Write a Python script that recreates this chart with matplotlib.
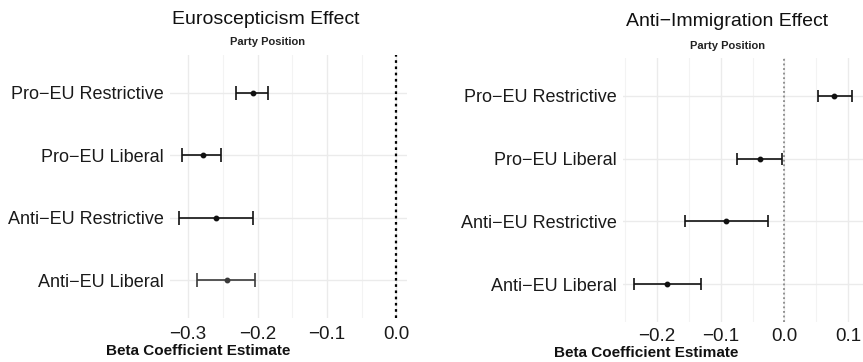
import numpy as np
import matplotlib.pyplot as plt
from matplotlib.ticker import MultipleLocator

plt.rcParams['font.family'] = ['Liberation Sans', 'DejaVu Sans']

# party positions, drawn top to bottom
positions = ["Pro\u2212EU Restrictive", "Pro\u2212EU Liberal",
             "Anti\u2212EU Restrictive", "Anti\u2212EU Liberal"]

# euroscepticism effect: estimate and interval bounds
euro_est = [-0.207, -0.279, -0.260, -0.244]
euro_lo = [-0.231, -0.308, -0.313, -0.287]
euro_hi = [-0.185, -0.252, -0.207, -0.203]

# anti-immigration effect
immig_est = [0.078, -0.039, -0.091, -0.184]
immig_lo = [0.052, -0.075, -0.155, -0.236]
immig_hi = [0.105, -0.004, -0.026, -0.131]

euro_ticks = [-0.3, -0.2, -0.1, 0.0]
immig_ticks = [-0.2, -0.1, 0.0, 0.1]


def coef_panel(ax, est, lo, hi, ticks, xlim, zero_style, colors, capsize, pad_x):
    y = np.arange(len(positions))[::-1] + 1
    est = np.array(est)
    err = np.vstack([est - np.array(lo), np.array(hi) - est])
    for i in range(len(est)):
        ax.errorbar(est[i], y[i], xerr=err[:, i:i + 1], fmt='o', color=colors[i],
                    ms=3.2, elinewidth=1.2, capsize=capsize, capthick=1.2, zorder=3)
    ax.axvline(0, zorder=2, **zero_style)
    ax.set_xlim(*xlim)
    ax.set_ylim(0.4, 4.6)
    ax.set_yticks(y)
    ax.set_yticklabels(positions)
    ax.set_xticks(ticks)
    ax.set_xticklabels([("%.1f" % t).replace("-", "\u2212") for t in ticks])
    ax.xaxis.set_minor_locator(MultipleLocator(0.05))
    ax.grid(True, which='major', color='#ebebeb', lw=1.0, zorder=0)
    ax.grid(True, which='minor', axis='x', color='#f3f3f3', lw=0.8, zorder=0)
    ax.tick_params(which='both', length=0)
    ax.tick_params(axis='y', labelsize=13, labelcolor='#1a1a1a', pad=4.5)
    ax.tick_params(axis='x', labelsize=13.5, labelcolor='#1a1a1a', pad=pad_x)
    for s in ax.spines.values():
        s.set_visible(False)
    ax.set_axisbelow(True)


fig = plt.figure(figsize=(8.63, 3.62), dpi=100)

ax1 = fig.add_axes([0.197, 0.1215, 0.2746, 0.7265])
coef_panel(ax1, euro_est, euro_lo, euro_hi, euro_ticks, (-0.3259, 0.0151),
           dict(color='black', lw=1.6, ls=(0, (1.2, 1.6))),
           ['#111111', '#111111', '#111111', '#3a3a3a'], 4.7, 6)

ax2 = fig.add_axes([0.7216, 0.1105, 0.2785, 0.7293])
coef_panel(ax2, immig_est, immig_lo, immig_hi, immig_ticks, (-0.253, 0.123),
           dict(color='#777777', lw=1.1, ls=(0, (1.2, 1.8))),
           ['#111111'] * 4, 4.0, 4.5)

# titles and axis captions
fig.text(0.308, 0.945, "Euroscepticism Effect", ha='center', va='center',
         fontsize=14, color='#111111')
fig.text(0.310, 0.885, "Party Position", ha='center', va='center',
         fontsize=8, fontweight='bold', color='#222222')
fig.text(0.2294, 0.030, "Beta Coefficient Estimate", ha='center', va='center',
         fontsize=11, fontweight='bold', color='#111111')

fig.text(0.843, 0.940, "Anti\u2212Immigration Effect", ha='center', va='center',
         fontsize=14, color='#111111')
fig.text(0.8426, 0.873, "Party Position", ha='center', va='center',
         fontsize=8, fontweight='bold', color='#222222')
fig.text(0.749, 0.024, "Beta Coefficient Estimate", ha='center', va='center',
         fontsize=11, fontweight='bold', color='#111111')

fig.savefig('out.png', dpi=100)
